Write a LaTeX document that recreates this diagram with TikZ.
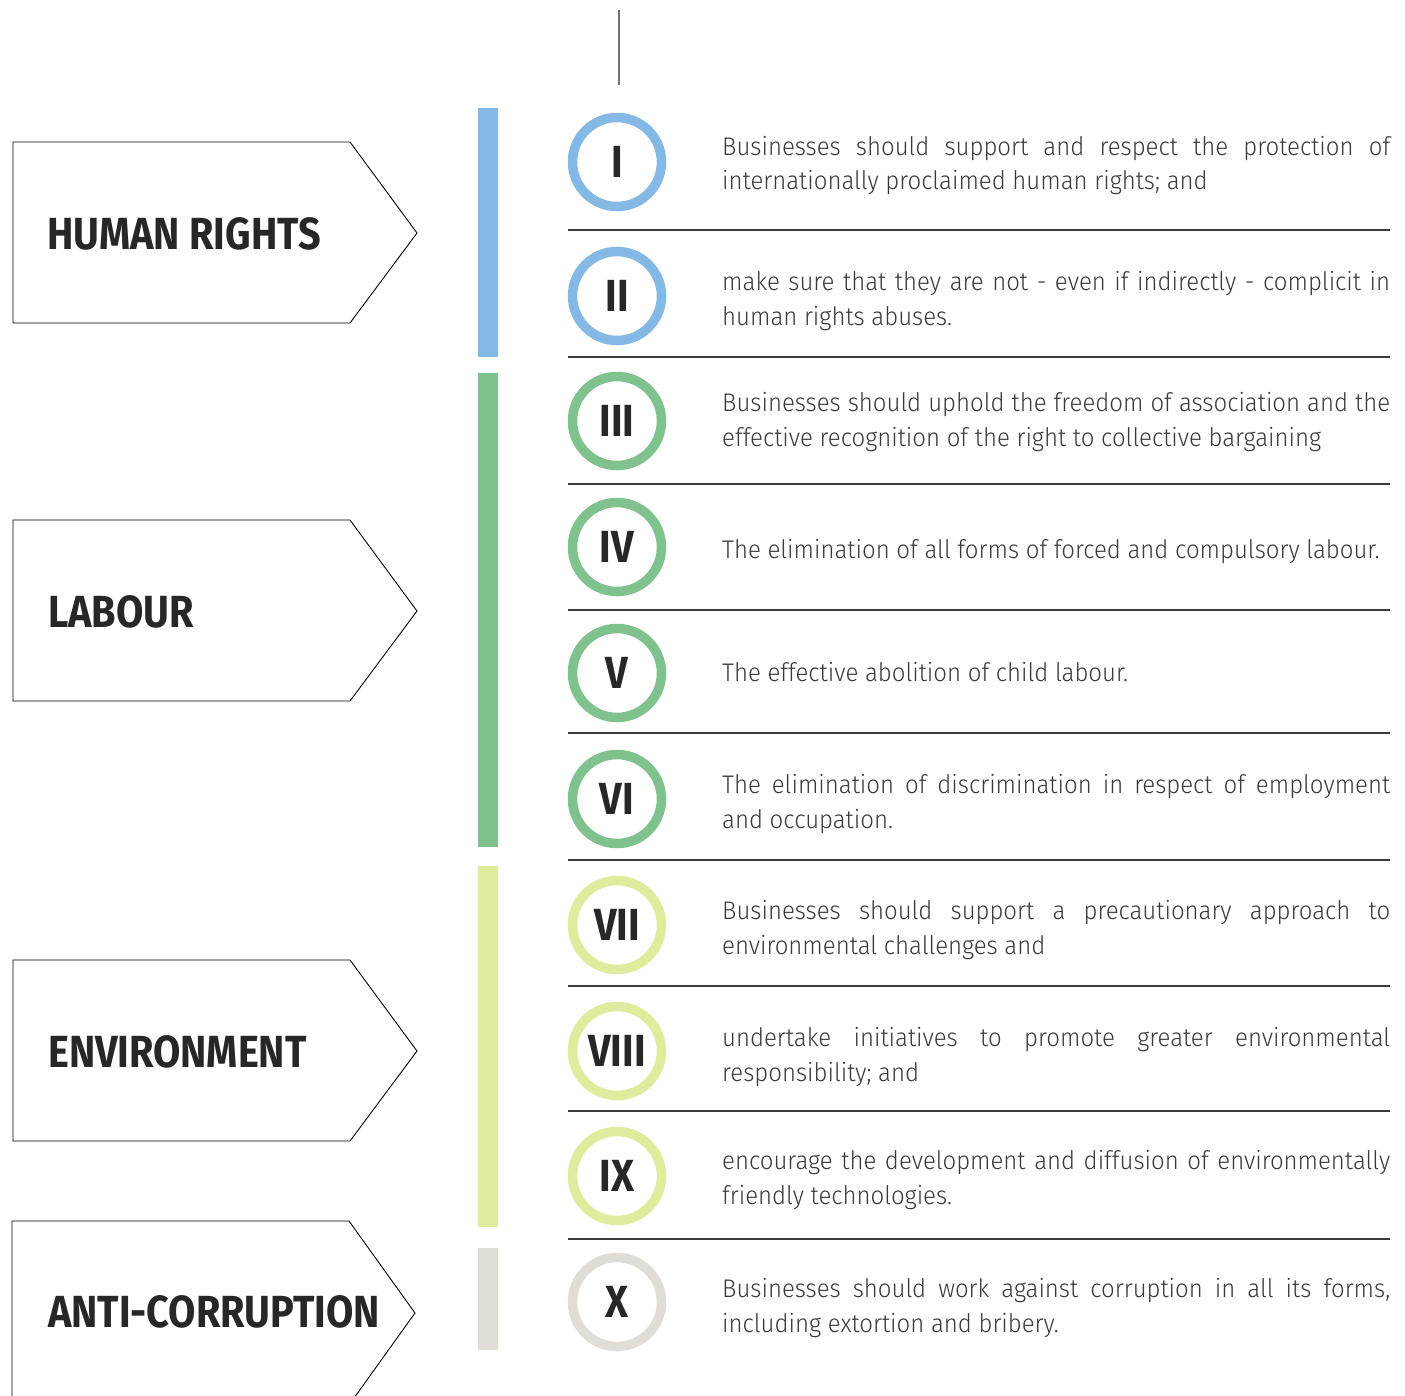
\documentclass[tikz,border=0pt]{standalone}
\usepackage{fontspec}
\newfontfamily\bodyfont{Fira Sans Light}[FakeStretch=0.94]
\newfontfamily\headfont{Fira Sans Bold}[FakeStretch=0.88]
\newcommand\nohyph{\hyphenpenalty=10000 \exhyphenpenalty=10000 }
\definecolor{hrblue}{HTML}{85B9E5}
\definecolor{lbgreen}{HTML}{7FC28E}
\definecolor{envlime}{HTML}{DFEC9E}
\definecolor{acgray}{HTML}{E0DDD6}
\definecolor{ink}{HTML}{272727}
\definecolor{bodyink}{HTML}{3A3A3A}
\definecolor{sepline}{HTML}{3C3C3C}
\tikzset{
  pentagon/.style={draw=black, line width=0.9pt, fill=white},
  headtext/.style={anchor=west, inner sep=0pt, text=ink, font={\headfont\fontsize{45}{45}\selectfont}},
  numring/.style={circle, draw=#1, line width=9.5pt, minimum size=89pt, inner sep=0pt, text=ink, font={\headfont\fontsize{45}{45}\selectfont}},
  desc/.style={anchor=west, inner sep=0pt, text width=668pt, align=justify, text=bodyink,
    font={\bodyfont\fontsize{25.5}{34.5}\selectfont\nohyph}},
  sep/.style={draw=sepline, line width=1.3pt},
  bar/.style={fill=#1}
}
\begin{document}
\begin{tikzpicture}[x=1pt,y=-1pt]
\useasboundingbox (0,0) rectangle (1405,1395);
\fill[white] (0,0) rectangle (1405,1395);
% top line
\coordinate (t1) at (619,10);
\coordinate (t2) at (619,85);
\draw[draw=gray!90!black, line width=1.3pt] (t1) -- (t2);
% category arrows
\draw[pentagon] (13,142) -- (350,142) -- (417,233) -- (350,323) -- (13,323) -- cycle;
\draw[pentagon] (13,520) -- (350,520) -- (417,611) -- (350,701) -- (13,701) -- cycle;
\draw[pentagon] (13,960) -- (350,960) -- (417,1051) -- (350,1141) -- (13,1141) -- cycle;
\begin{scope}
\clip (0,0) rectangle (1405,1395);
\draw[pentagon] (12,1221) -- (349,1221) -- (415,1313) -- (349,1405) -- (12,1405) -- cycle;
\end{scope}
\node[headtext] (hr) at (47,234) {HUMAN RIGHTS};
\node[headtext] (lb) at (48,612) {LABOUR};
\node[headtext] (env) at (48,1052) {ENVIRONMENT};
\node[headtext] (ac) at (48,1312) {ANTI-CORRUPTION};
% colour bars
\fill[bar=hrblue] (478,108) rectangle (498,357);
\fill[bar=lbgreen] (478,373) rectangle (498,847);
\fill[bar=envlime] (478,866) rectangle (498,1227);
\fill[bar=acgray] (478,1248) rectangle (498,1350);
% separators
\foreach \yy/\nm in {230/s1,357/s2,484/s3,610/s4,733/s5,860/s6,986/s7,1111/s8,1239/s9}{
  \coordinate (\nm a) at (568,\yy);
  \coordinate (\nm b) at (1390,\yy);
  \draw[sep] (\nm a) -- (\nm b);
}
% numbered rings
\node[numring=hrblue] (n1) at (617,162) {I};
\node[numring=hrblue] (n2) at (617,296) {II};
\node[numring=lbgreen] (n3) at (617,421) {III};
\node[numring=lbgreen] (n4) at (617,547) {IV};
\node[numring=lbgreen] (n5) at (617,673) {V};
\node[numring=lbgreen] (n6) at (617,799) {VI};
\node[numring=envlime] (n7) at (617,925) {VII};
\node[numring=envlime] (n8) at (617,1051) {VIII};
\node[numring=envlime] (n9) at (617,1176) {IX};
\node[numring=acgray] (n10) at (617,1302) {X};
% descriptions
\node[desc] (d1) at (722,165.5) {Businesses should support and respect the protection of\linebreak internationally proclaimed human rights; and};
\node[desc] (d2) at (722,301) {make sure that they are not - even if indirectly - complicit in\linebreak human rights abuses.};
\node[desc] (d3) at (722,422) {Businesses should uphold the freedom of association and the\linebreak effective recognition of the right to collective bargaining};
\node[desc] (d4) at (722,552) {The elimination of all forms of forced and compulsory labour.};
\node[desc] (d5) at (722,672) {The effective abolition of child labour.};
\node[desc] (d6) at (722,804) {The elimination of discrimination in respect of employment\linebreak and occupation.};
\node[desc] (d7) at (722,930) {Businesses should support a precautionary approach to\linebreak environmental challenges and};
\node[desc] (d8) at (722,1057) {undertake initiatives to promote greater environmental\linebreak responsibility; and};
\node[desc] (d9) at (722,1180) {encourage the development and diffusion of environmentally\linebreak friendly technologies.};
\node[desc] (d10) at (722,1308) {Businesses should work against corruption in all its forms,\linebreak including extortion and bribery.};
\end{tikzpicture}
\end{document}
